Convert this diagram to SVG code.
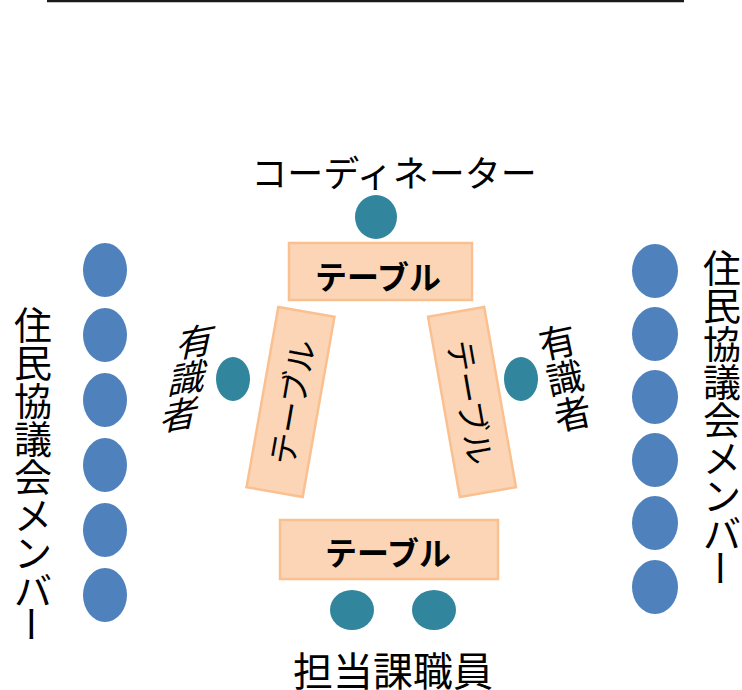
<svg xmlns="http://www.w3.org/2000/svg" width="742" height="690" viewBox="0 0 742 690">
<defs>
<style>
.t{font-family:"Noto Sans CJK JP","Noto Sans",sans-serif;fill:#000;text-anchor:middle;dominant-baseline:central}
.tbl{fill:#FBD5B5;stroke:#FAC090;stroke-width:2.5}
.teal{fill:#31859C}
.blue{fill:#4F81BD}
</style>
</defs>
<line x1="47" y1="1" x2="684" y2="1" stroke="#1a1a1a" stroke-width="2.5"/>

<g id="coordinator">
<text class="t" x="394" y="171" font-size="36">コーディネーター</text>
<ellipse class="teal" cx="376" cy="217" rx="21" ry="22"/>
</g>

<g id="table-top">
<rect class="tbl" x="289" y="243" width="183" height="57"/>
<text class="t" x="378" y="275" font-size="32" font-weight="600">テーブル</text>
</g>

<g id="table-left" transform="translate(290.5 402) rotate(10)">
<rect class="tbl" x="-28.5" y="-91.5" width="57" height="183"/>
<text class="t" x="0" y="0" font-size="32" transform="rotate(-90)">テーブル</text>
</g>

<g id="table-right" transform="translate(472 402) rotate(-10)">
<rect class="tbl" x="-28.5" y="-91.5" width="57" height="183"/>
<text class="t" x="0" y="0" font-size="32" transform="rotate(90)">テーブル</text>
</g>

<g id="table-bottom">
<rect class="tbl" x="280" y="520" width="218" height="59"/>
<text class="t" x="388" y="551" font-size="32" font-weight="600">テーブル</text>
</g>

<g id="expert-left">
<ellipse class="teal" cx="233" cy="379" rx="17" ry="22"/>
<g transform="matrix(1 -0.18 -0.22 1 197 339)" font-size="37">
<text class="t" x="0" y="0">有</text>
<text class="t" x="0" y="36.5">識</text>
<text class="t" x="0" y="73">者</text>
</g>
</g>

<g id="expert-right">
<ellipse class="teal" cx="521" cy="379" rx="17" ry="22"/>
<g transform="translate(557 340) rotate(-12)" font-size="37">
<text class="t" x="0" y="0">有</text>
<text class="t" x="0" y="36.5">識</text>
<text class="t" x="0" y="73">者</text>
</g>
</g>

<g id="staff">
<ellipse class="teal" cx="352" cy="610" rx="22" ry="20"/>
<ellipse class="teal" cx="434" cy="610" rx="22" ry="20"/>
<text class="t" x="393" y="669" font-size="40">担当課職員</text>
</g>

<g id="members-left">
<ellipse class="blue" cx="105" cy="270" rx="22" ry="27"/>
<ellipse class="blue" cx="105" cy="335" rx="22" ry="27"/>
<ellipse class="blue" cx="105" cy="400" rx="22" ry="27"/>
<ellipse class="blue" cx="105" cy="465" rx="22" ry="27"/>
<ellipse class="blue" cx="105" cy="530" rx="22" ry="27"/>
<ellipse class="blue" cx="105" cy="595" rx="22" ry="27"/>
<g font-size="38">
<text class="t" x="33" y="322">住</text>
<text class="t" x="33" y="360">民</text>
<text class="t" x="33" y="398">協</text>
<text class="t" x="33" y="436">議</text>
<text class="t" x="33" y="474">会</text>
<text class="t" x="33" y="512">メ</text>
<text class="t" x="33" y="550">ン</text>
<text class="t" x="33" y="588">バ</text>
<text class="t" x="33" y="624" transform="rotate(90 33 624)">ー</text>
</g>
</g>

<g id="members-right">
<ellipse class="blue" cx="655" cy="271" rx="23" ry="27"/>
<ellipse class="blue" cx="655" cy="334" rx="23" ry="27"/>
<ellipse class="blue" cx="655" cy="397" rx="23" ry="27"/>
<ellipse class="blue" cx="655" cy="460" rx="23" ry="27"/>
<ellipse class="blue" cx="655" cy="523" rx="23" ry="27"/>
<ellipse class="blue" cx="655" cy="587" rx="23" ry="27"/>
<g font-size="38">
<text class="t" x="722" y="265">住</text>
<text class="t" x="722" y="303">民</text>
<text class="t" x="722" y="341">協</text>
<text class="t" x="722" y="379">議</text>
<text class="t" x="722" y="417">会</text>
<text class="t" x="722" y="455">メ</text>
<text class="t" x="722" y="493">ン</text>
<text class="t" x="722" y="531">バ</text>
<text class="t" x="722" y="568" transform="rotate(90 722 568)">ー</text>
</g>
</g>
</svg>
